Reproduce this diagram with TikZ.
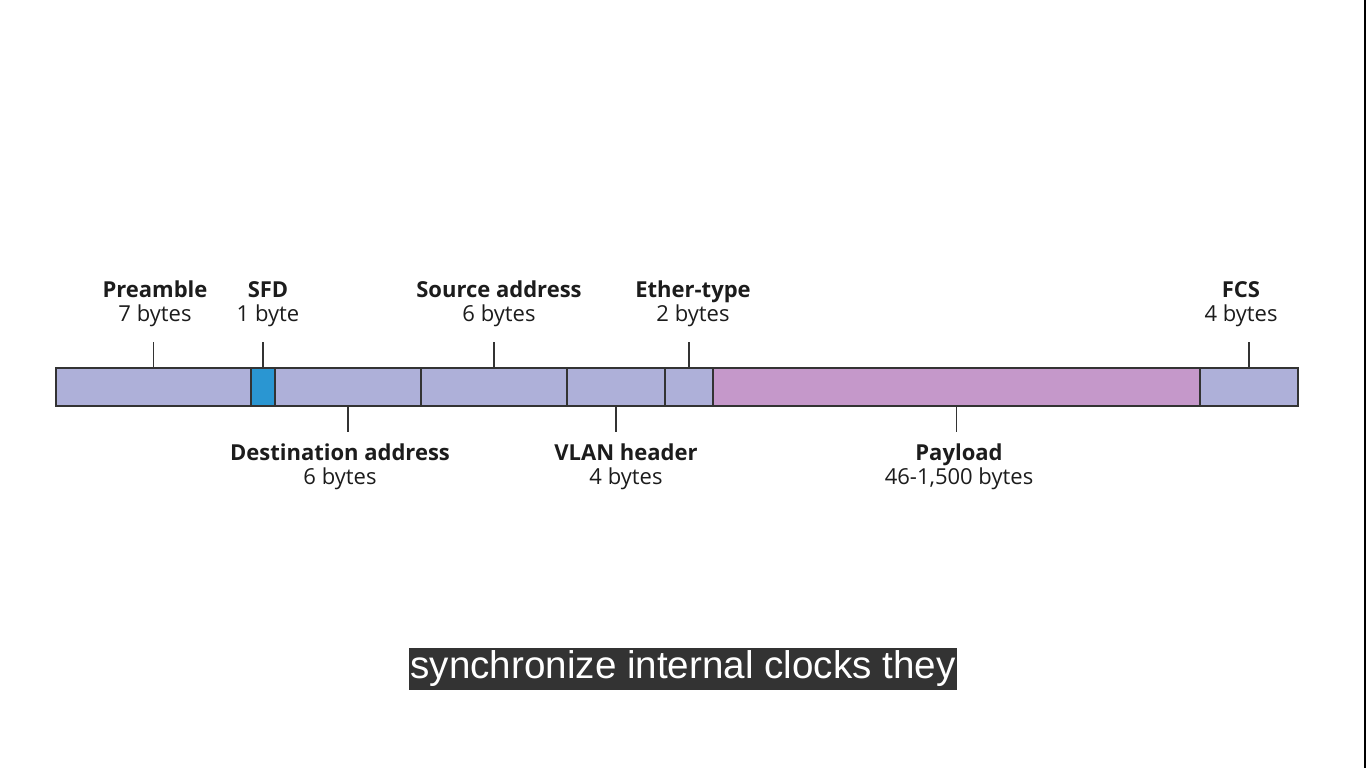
\documentclass[tikz,border=0pt]{standalone}
\usepackage{fontspec}
\setmainfont{Open Sans}
\newfontfamily\capfont{Liberation Sans}
\usetikzlibrary{positioning, calc}
\definecolor{fieldblue}{HTML}{AEB0D9}
\definecolor{sfdblue}{HTML}{2A96D2}
\definecolor{payloadpink}{HTML}{C598CA}
\definecolor{barline}{HTML}{333333}
\definecolor{labeltext}{HTML}{1C1C1C}
\definecolor{capgray}{HTML}{333333}

\begin{document}
\begin{tikzpicture}[x=1pt, y=-1pt,
    field/.style={draw=barline, line width=1.6pt, fill=fieldblue, minimum height=38pt,
                  inner sep=0pt, outer sep=0pt},
    lbl/.style={align=center, text=labeltext, font=\fontsize{22}{23.5}\selectfont, inner sep=0pt},
    tick/.style={draw=barline, line width=1.5pt}]
    \useasboundingbox (0,0) rectangle (1366,768);
    \fill[white] (0,0) rectangle (1366,768);
    \fill[black] (1364,0) rectangle (1366,768);
    % the frame, left to right
    \node[field, anchor=west, minimum width=195pt] (pre) at (56,387) {};
    \node[field, fill=sfdblue, minimum width=24pt, right=0pt of pre] (sfd) {};
    \node[field, minimum width=146pt, right=0pt of sfd] (dst) {};
    \node[field, minimum width=146pt, right=0pt of dst] (src) {};
    \node[field, minimum width=98pt, right=0pt of src] (vlan) {};
    \node[field, minimum width=48pt, right=0pt of vlan] (eth) {};
    \node[field, fill=payloadpink, minimum width=487pt, right=0pt of eth] (pay) {};
    \node[field, minimum width=98pt, right=0pt of pay] (fcs) {};
    % labels above
    \node[lbl] (prelbl) at (155,304) {\textbf{Preamble}\\7 bytes};
    \node[lbl] (sfdlbl) at (268,304) {\textbf{SFD}\\1 byte};
    \node[lbl] (srclbl) at (499,304) {\textbf{Source address}\\6 bytes};
    \node[lbl] (ethlbl) at (693,304) {\textbf{Ether-type}\\2 bytes};
    \node[lbl] (fcslbl) at (1241,304) {\textbf{FCS}\\4 bytes};
    % labels below
    \node[lbl] (dstlbl) at (340,467) {\textbf{Destination address}\\6 bytes};
    \node[lbl] (vlanlbl) at (626,467) {\textbf{VLAN header}\\4 bytes};
    \node[lbl] (paylbl) at (959,467) {\textbf{Payload}\\46-1,500 bytes};
    % ticks
    \foreach \f in {pre, sfd, src, eth, fcs}
        \draw[tick] (\f.north) -- ++(0,-26);
    \foreach \f in {dst, vlan, pay}
        \draw[tick] (\f.south) -- ++(0,26);
    % subtitle
    \node[fill=capgray, text=white, font=\capfont\fontsize{38.6}{42}\selectfont,
          inner xsep=2pt, inner ysep=0pt, minimum height=42pt] (cap) at (683,669)
          {synchronize internal clocks they};
\end{tikzpicture}
\end{document}
